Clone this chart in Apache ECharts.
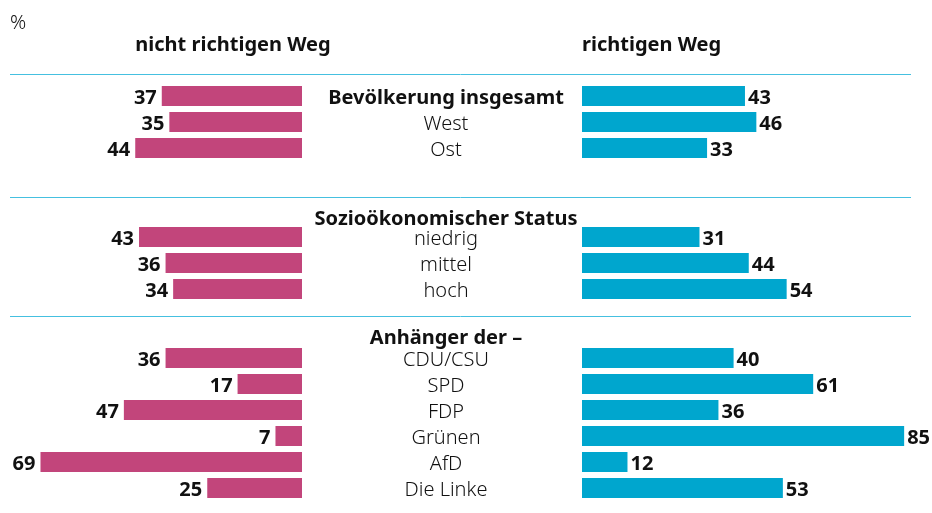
<!DOCTYPE html>
<html>
<head>
<meta charset="utf-8">
<script src="https://cdn.jsdelivr.net/npm/echarts@6/dist/echarts.min.js"></script>
<style>
  html, body { margin: 0; padding: 0; background: #fff; }
  #chart { width: 932px; height: 513px; }
</style>
</head>
<body>
<div id="chart"></div>
<script>
// Kategorien je Gruppe
const catGesamt = ['Bevölkerung insgesamt', 'West', 'Ost']
const catStatus = ['niedrig', 'mittel', 'hoch']
const catPartei = ['CDU/CSU', 'SPD', 'FDP', 'Grünen', 'AfD', 'Die Linke']
// nicht richtigen Weg (%)
const nichtGesamt = [37, 35, 44]
const nichtStatus = [43, 36, 34]
const nichtPartei = [36, 17, 47, 7, 69, 25]
// richtigen Weg (%)
const richtigGesamt = [43, 46, 33]
const richtigStatus = [31, 44, 54]
const richtigPartei = [40, 61, 36, 85, 12, 53]

const FONT = 'Noto Sans'
const MAGENTA = '#C2457B'
const CYAN = '#00A6CE'
const TEXT = '#111'
const ROW = 26 // Zeilenabstand
const FS = 20 // Schriftgröße

const groups = [
  { cats: catGesamt, left: nichtGesamt, right: richtigGesamt, top: 83 },
  { cats: catStatus, left: nichtStatus, right: richtigStatus, top: 224 },
  { cats: catPartei, left: nichtPartei, right: richtigPartei, top: 345 }
]

const grid = [], xAxis = [], yAxis = [], series = []
groups.forEach((g, i) => {
  const h = g.cats.length * ROW
  // linke Seite: nicht richtigen Weg
  grid.push({ left: 17.75, width: 284.25, top: g.top, height: h })
  // rechte Seite: richtigen Weg
  grid.push({ left: 582, width: 341.1, top: g.top, height: h })
  const li = i * 2, ri = i * 2 + 1
  xAxis.push({ gridIndex: li, type: 'value', min: 0, max: 75, inverse: true, show: false })
  xAxis.push({ gridIndex: ri, type: 'value', min: 0, max: 90, show: false })
  yAxis.push({ gridIndex: li, type: 'category', data: g.cats, inverse: true, show: false })
  yAxis.push({
    gridIndex: ri, type: 'category', data: g.cats, inverse: true,
    axisLine: { show: false }, axisTick: { show: false }, splitLine: { show: false },
    axisLabel: {
      interval: 0, hideOverlap: false,
      margin: 136, align: 'center', fontFamily: FONT, fontSize: FS, fontWeight: 300, color: TEXT,
      padding: [4, 0, 0, 0],
      formatter: v => v === 'Bevölkerung insgesamt' ? '{b|' + v + '}' : v,
      rich: { b: { fontFamily: FONT, fontSize: FS, fontWeight: 'bold', color: TEXT } }
    }
  })
  series.push({
    type: 'bar', xAxisIndex: li, yAxisIndex: li, data: g.left, barWidth: 20,
    itemStyle: { color: MAGENTA },
    label: { show: true, position: 'left', distance: 5, offset: [0, 2], fontFamily: FONT, fontSize: FS, fontWeight: 'bold', color: TEXT },
    animation: false
  })
  series.push({
    type: 'bar', xAxisIndex: ri, yAxisIndex: ri, data: g.right, barWidth: 20,
    itemStyle: { color: CYAN },
    label: { show: true, position: 'right', distance: 3, offset: [0, 2], fontFamily: FONT, fontSize: FS, fontWeight: 'bold', color: TEXT },
    animation: false
  })
})

const lineY = [74.5, 197.5, 316.5]
const graphic = lineY.map(y => ({
  type: 'line', shape: { x1: 10, y1: y, x2: 911, y2: y },
  style: { stroke: '#45C0E0', lineWidth: 1 }
}))
const textStyle = (txt, x, y, align, bold) => ({
  type: 'text', x: x, y: y,
  style: {
    text: txt, fontFamily: FONT, fontSize: FS, fontWeight: bold ? 'bold' : 300,
    fill: TEXT, textAlign: align, textVerticalAlign: 'middle'
  }
})
graphic.push(textStyle('%', 10, 23, 'left', false))
graphic.push(textStyle('nicht richtigen Weg', 233, 45, 'center', true))
graphic.push(textStyle('richtigen Weg', 582, 45, 'left', true))
graphic.push(textStyle('Sozioökonomischer Status', 446, 219, 'center', true))
graphic.push(textStyle('Anhänger der –', 446, 338, 'center', true))

const chart = echarts.init(document.getElementById('chart'))
chart.setOption({
  animation: false,
  grid: grid,
  xAxis: xAxis,
  yAxis: yAxis,
  series: series,
  graphic: graphic
})
</script>
</body>
</html>
